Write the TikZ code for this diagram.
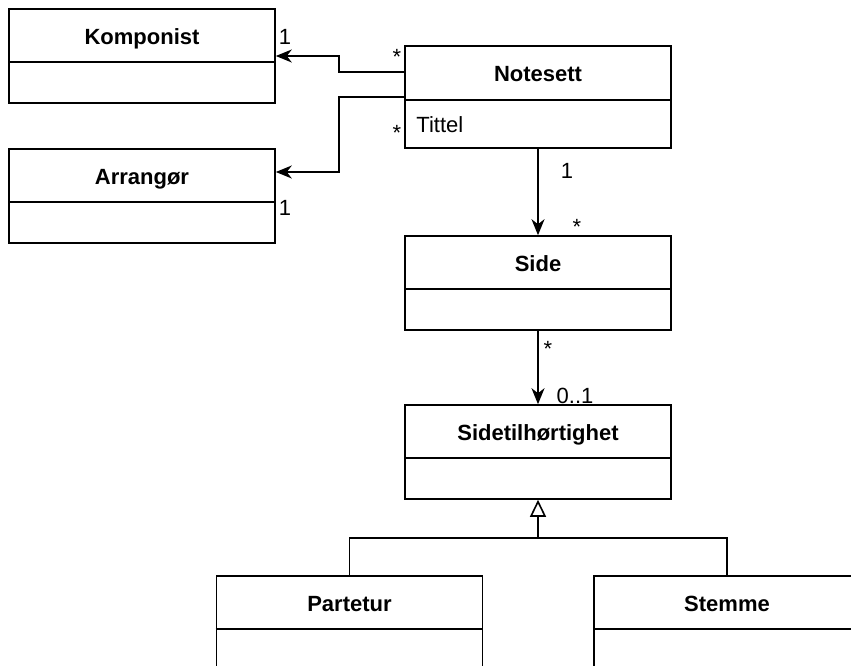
\documentclass[tikz,border=0pt]{standalone}
\usepackage{fontspec}
\setmainfont{Liberation Sans}
\usetikzlibrary{arrows.meta}

\tikzset{
  umlbox/.style={draw, line width=1.6pt, minimum width=266pt, inner sep=0pt},
  classname/.style={font=\fontsize{22}{26}\selectfont\bfseries, anchor=base, inner sep=0pt},
  mult/.style={anchor=base, inner sep=0pt},
  assoc/.style={line width=1.6pt, -{Stealth[length=16pt, width=13pt, inset=5pt]}},
  inherit/.style={line width=1.6pt, -{Triangle[open, length=17pt, width=16pt]}},
}

\begin{document}
\begin{tikzpicture}[x=1pt, y=-1pt, font=\fontsize{22}{26}\selectfont]
	\useasboundingbox (0,0) rectangle (851,666);

	% Draw classes
	\node[umlbox, minimum height=94pt] (komponist) at (142,56) {};
	\node[umlbox, minimum height=94pt] (arrangor) at (142,196) {};
	\node[umlbox, minimum height=102pt] (notesett) at (538,97) {};
	\node[umlbox, minimum height=94pt] (side) at (538,283) {};
	\node[umlbox, minimum height=94pt] (sidetil) at (538,452) {};
	\node[umlbox, minimum height=94pt] (partetur) at (349.5,623) {};
	\node[umlbox, minimum height=94pt] (stemme) at (727,623) {};

	% Class names and dividers
	\foreach \cls/\name/\h in {komponist/Komponist/54, arrangor/Arrangør/54, notesett/Notesett/55,
	                         side/Side/54, sidetil/Sidetilhørtighet/54, partetur/Partetur/54, stemme/Stemme/54} {
		\node[classname] (\cls-name) at ([yshift=-36pt]\cls.north) {\name};
		\draw[line width=1.6pt] ([yshift=-\h pt]\cls.north west) -- ([yshift=-\h pt]\cls.north east);
	}

	% Attribute
	\node[anchor=base west, inner sep=0pt] (tittel) at ([xshift=12pt, yshift=16pt]notesett.south west) {Tittel};

	% Associations
	\draw[assoc] ([yshift=25pt]notesett.west) -- ++(-65,0) |- (komponist.east);
	\draw[assoc] (notesett.west) -- ++(-65,0) |- ([yshift=24pt]arrangor.east);
	\draw[assoc] (notesett.south) -- (side.north);
	\draw[assoc] (side.south) -- (sidetil.north);

	% Generalisation
	\coordinate (joint) at (538,538);
	\draw[line width=1.6pt] (partetur.north) |- (joint) -| (stemme.north);
	\draw[inherit] (joint) -- (sidetil.south);

	% Multiplicities
	\node[mult] (m1) at (285,45) {1};
	\node[mult] (m2) at (397,65) {*};
	\node[mult] (m3) at (397,141) {*};
	\node[mult] (m4) at (285,215) {1};
	\node[mult] (m5) at (567,178) {1};
	\node[mult] (m6) at (577,234) {*};
	\node[mult] (m7) at (548,356) {*};
	\node[mult] (m8) at (575,403) {0..1};
\end{tikzpicture}
\end{document}
